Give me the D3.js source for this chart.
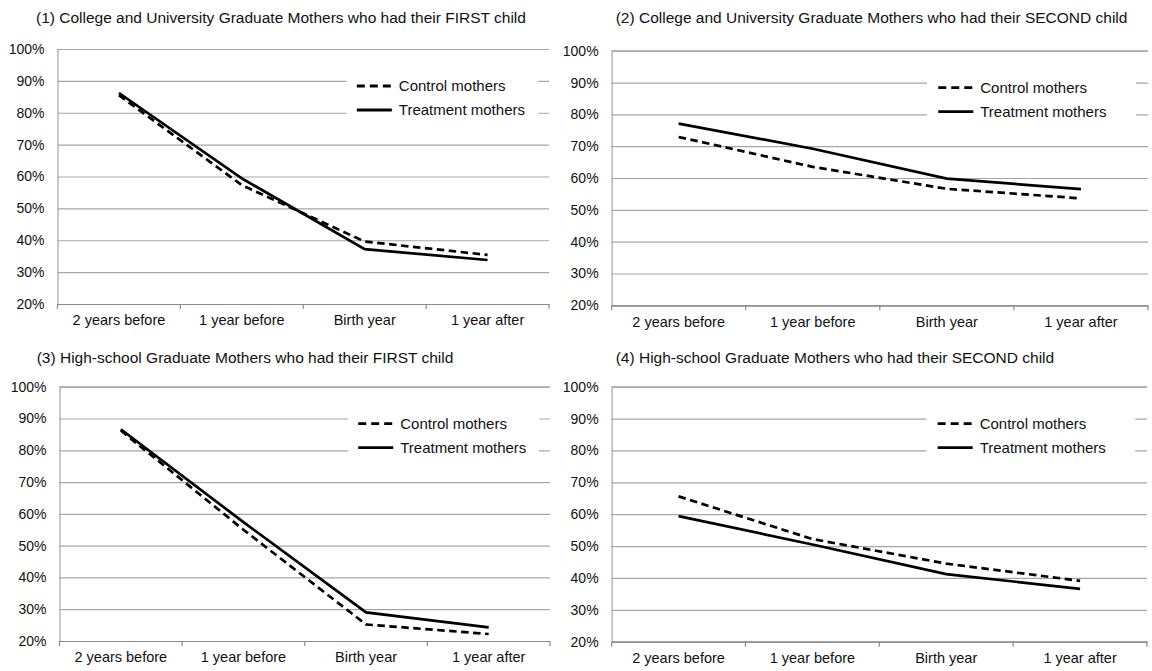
<!DOCTYPE html>
<html>
<head>
<meta charset="utf-8">
<script src="https://cdn.jsdelivr.net/npm/d3@7"></script>
<style>
  html, body { margin: 0; padding: 0; background: #fff; }
  svg { display: block; font-family: "Liberation Sans", Arial, sans-serif; }
</style>
</head>
<body>
<svg id="chart" width="1152" height="671"></svg>
<script>
// Category labels along the x axis
const categories = ["2 years before", "1 year before", "Birth year", "1 year after"];

// Panel titles
const titles = [
  "(1) College and University Graduate Mothers who had their FIRST child",
  "(2) College and University Graduate Mothers who had their SECOND child",
  "(3) High-school Graduate Mothers who had their FIRST child",
  "(4) High-school Graduate Mothers who had their SECOND child"
];

// Share (%) per panel, control vs treatment mothers
const control1   = [85.5, 57.3, 39.6, 35.4];
const treatment1 = [86.2, 59.4, 37.2, 33.8];
const control2   = [72.9, 63.5, 56.6, 53.6];
const treatment2 = [77.1, 69.2, 59.8, 56.5];
const control3   = [86.2, 55.0, 25.2, 22.2];
const treatment3 = [86.6, 57.4, 29.0, 24.3];
const control4   = [65.6, 52.2, 44.5, 39.1];
const treatment4 = [59.4, 50.5, 41.2, 36.6];

// Y axis ticks (percent)
const yTicks = [20, 30, 40, 50, 60, 70, 80, 90, 100];

const seriesNames = ["Control mothers", "Treatment mothers"];

const panelData = [
  [control1, treatment1],
  [control2, treatment2],
  [control3, treatment3],
  [control4, treatment4]
];

// Plot-area placement of each panel
const layout = [
  { left: 57.5,  right: 549,  top: 49,    bottom: 304,   titleX: 36,    titleY: 23 },
  { left: 611.6, right: 1148, top: 50.7,  bottom: 305.3, titleX: 615.7, titleY: 23 },
  { left: 59.5,  right: 550,  top: 386.7, bottom: 641,   titleX: 36.7,  titleY: 363 },
  { left: 611.6, right: 1147, top: 386.7, bottom: 641.7, titleX: 615.7, titleY: 363 }
];

const svg = d3.select("#chart");
const gridColor = "#a6a6a6";
const fmt = d => d + "%";

layout.forEach((L, i) => {
  const g = svg.append("g");
  const w = L.right - L.left;

  const x = d3.scaleBand().domain(categories).range([L.left, L.right]).padding(0);
  const y = d3.scaleLinear().domain([20, 100]).range([L.bottom, L.top]);
  const cx = c => x(c) + x.bandwidth() / 2;

  // Title
  g.append("text")
    .attr("x", L.titleX).attr("y", L.titleY)
    .attr("font-size", 15.5).attr("fill", "#111")
    .text(titles[i]);

  // Horizontal gridlines + y labels
  const yAxis = d3.axisLeft(y).tickValues(yTicks).tickFormat(fmt).tickSize(-w).tickPadding(13);
  const ya = g.append("g").attr("transform", `translate(${L.left},0)`).call(yAxis);
  ya.select(".domain").attr("stroke", gridColor).attr("stroke-width", 1.2);
  ya.selectAll(".tick line").attr("stroke", gridColor).attr("stroke-width", 1.2);
  ya.selectAll(".tick text").attr("font-size", 14).attr("fill", "#111")
    .attr("font-family", "Liberation Sans, Arial, sans-serif");

  // Bottom axis: labels at category centers, ticks at category boundaries
  const xAxis = d3.axisBottom(x).tickSize(0).tickPadding(11);
  const xa = g.append("g").attr("transform", `translate(0,${L.bottom})`).call(xAxis);
  xa.select(".domain").attr("stroke", "#8c8c8c").attr("stroke-width", 1.2);
  xa.selectAll(".tick text").attr("font-size", 14.5).attr("fill", "#111")
    .attr("font-family", "Liberation Sans, Arial, sans-serif");
  const bounds = categories.map(c => x(c)).concat([L.right]);
  g.selectAll(".btick").data(bounds).enter().append("line")
    .attr("x1", d => d).attr("x2", d => d)
    .attr("y1", L.bottom).attr("y2", L.bottom + 5)
    .attr("stroke", "#8c8c8c").attr("stroke-width", 1.2);

  // Legend background box hiding gridlines behind it
  const lx0 = L.left + w * 0.588;
  const lx1 = L.left + w * 0.978;
  g.append("rect")
    .attr("x", lx0).attr("y", L.top + 22)
    .attr("width", lx1 - lx0).attr("height", 50)
    .attr("fill", "#fff");

  // Series lines
  const line = d3.line().x((d, k) => cx(categories[k])).y(d => y(d));
  panelData[i].forEach((vals, s) => {
    g.append("path")
      .datum(vals)
      .attr("d", line)
      .attr("fill", "none")
      .attr("stroke", "#000")
      .attr("stroke-width", 2.7)
      .attr("stroke-dasharray", s === 0 ? "7.5,4.5" : null);
  });

  // Legend entries
  const legX = L.left + w * 0.609;
  seriesNames.forEach((name, s) => {
    const ly = L.top + 37 + s * 24;
    g.append("line")
      .attr("x1", legX).attr("x2", legX + 35)
      .attr("y1", ly).attr("y2", ly)
      .attr("stroke", "#000").attr("stroke-width", 2.8)
      .attr("stroke-dasharray", s === 0 ? "8,5" : null);
    g.append("text")
      .attr("x", legX + 42).attr("y", ly + 5)
      .attr("font-size", 15).attr("fill", "#111")
      .text(name);
  });
});
</script>
</body>
</html>
